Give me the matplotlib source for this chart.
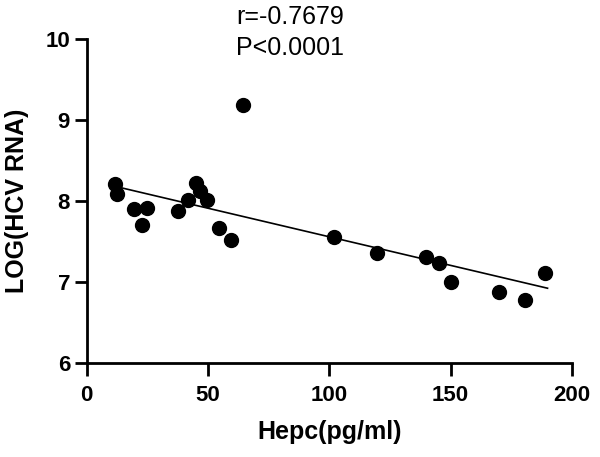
import numpy as np
import matplotlib
matplotlib.use("Agg")
import matplotlib.pyplot as plt

plt.rcParams['font.family'] = ['Liberation Sans', 'DejaVu Sans']

# Hepcidin (pg/ml) vs log(HCV RNA)
hepc = [11.5, 12.6, 19.3, 25.0, 22.6, 37.6, 41.6, 45.1, 46.6, 49.5, 54.7,
        59.6, 64.5, 102.0, 119.8, 139.9, 145.1, 150.2, 170.0, 180.5, 188.9]
log_rna = [8.21, 8.09, 7.90, 7.91, 7.70, 7.88, 8.01, 8.22, 8.12, 8.01, 7.67,
           7.51, 9.18, 7.55, 7.36, 7.31, 7.23, 7.00, 6.87, 6.78, 7.11]

# fitted line end points
fit_x = [13, 190]
fit_y = [8.17, 6.92]

fig = plt.figure(figsize=(6, 4.57), dpi=100)
ax = fig.add_axes([0.1445, 0.2064, 0.8085, 0.7083])

ax.scatter(hepc, log_rna, s=100, color='black', zorder=3, clip_on=False)
ax.plot(fit_x, fit_y, color='black', lw=1.2, zorder=2)

ax.set_xlim(0, 200)
ax.set_ylim(6, 10)
ax.set_xticks([0, 50, 100, 150, 200])
ax.set_yticks([6, 7, 8, 9, 10])

for side in ['top', 'right']:
    ax.spines[side].set_visible(False)
for side in ['left', 'bottom']:
    ax.spines[side].set_linewidth(2)

ax.tick_params(width=2, length=9, labelsize=16)
ax.tick_params(axis='x', pad=7)
ax.tick_params(axis='y', pad=3)
for lbl in ax.get_xticklabels() + ax.get_yticklabels():
    lbl.set_fontweight('bold')

ax.set_xlabel('Hepc(pg/ml)', fontsize=18, fontweight='bold', labelpad=10)
ax.set_ylabel('LOG(HCV RNA)', fontsize=18, fontweight='bold', labelpad=12)

fig.text(0.483, 1 - 17 / 457, 'r=-0.7679', fontsize=18, ha='center', va='center')
fig.text(0.483, 1 - 48 / 457, 'P<0.0001', fontsize=18, ha='center', va='center')

fig.savefig('out.png', dpi=100)
